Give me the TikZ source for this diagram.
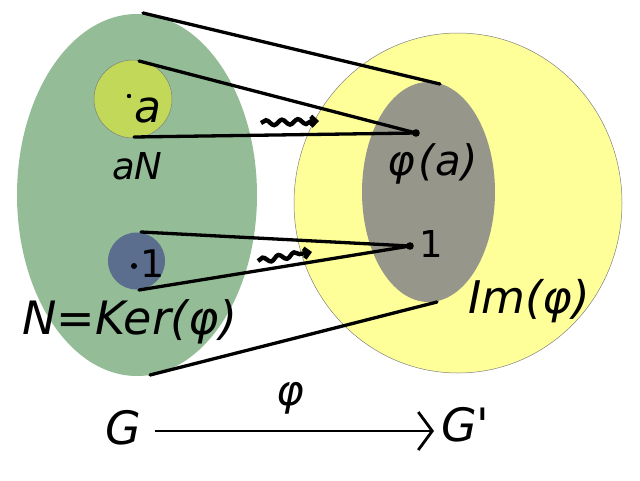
\documentclass[tikz,border=0pt]{standalone}
\usepackage{fontspec}
\setmainfont{DejaVu Sans}[Ligatures=TeXOff]
\usetikzlibrary{decorations.pathmorphing,arrows.meta}
\definecolor{grn}{RGB}{148,189,151}
\definecolor{ylw}{RGB}{255,255,153}
\definecolor{gry}{RGB}{150,150,138}
\definecolor{lim}{RGB}{194,216,88}
\definecolor{blu}{RGB}{91,110,141}
\tikzset{
  lbl/.style={inner sep=0pt, anchor=base west},
  mapline/.style={line width=3.3pt, line cap=round},
  squig/.style={line width=4.4pt, decorate,
    decoration={snake, amplitude=2.6pt, segment length=16pt, post length=7pt},
    -{Straight Barb[length=5pt,width=10pt]}},
  bigarrow/.style={line width=2.8pt, -{Straight Barb[length=14pt,width=38pt]}},
}
\newcommand{\fs}[1]{\fontsize{#1}{#1}\selectfont\itshape}
\newcommand{\fu}[1]{\fontsize{#1}{#1}\selectfont}
\begin{document}
\begin{tikzpicture}[x=1pt,y=-1pt]
\useasboundingbox (0,0) rectangle (640,480);
% sets
\fill[grn] (137,195) ellipse [x radius=120, y radius=181];
\filldraw[fill=ylw, draw=gray, line width=0.5pt] (458,203) ellipse [x radius=164, y radius=170];
\fill[gry] (428.5,192) ellipse [x radius=66.5, y radius=110];
\filldraw[fill=lim, draw=gray, line width=0.5pt] (133,99) circle (39);
\fill[blu] (136.5,261) circle (28.5);
% coordinates
\coordinate (gtop) at (143,13);
\coordinate (gbot) at (150,375);
\coordinate (ktop) at (440,84);
\coordinate (kbot) at (437,302);
\coordinate (atop) at (139,61);
\coordinate (abot) at (134,137);
\coordinate (ntop) at (141,232);
\coordinate (nbot) at (139,290);
\coordinate (pa) at (416,133);
\coordinate (p1) at (410,246);
% lines
\draw[mapline] (gtop) -- (ktop);
\draw[mapline] (gbot) -- (kbot);
\draw[mapline] (atop) -- (pa);
\draw[mapline] (abot) -- (pa);
\draw[mapline] (ntop) -- (p1);
\draw[mapline] (nbot) -- (p1);
\fill (pa) circle (3.8);
\fill (p1) circle (3.8);
% dots in small sets
\fill (129,96) circle (2.2);
\fill (134,266) circle (3);
% squiggles
\coordinate (s1a) at (261,123);
\coordinate (s1b) at (319,121);
\coordinate (s2a) at (258,261);
\coordinate (s2b) at (312,252);
\draw[squig] (s1a) -- (s1b);
\draw[squig] (s2a) -- (s2b);
% labels
\node[lbl] (la) at (134,122) {\fs{44}a};
\node[lbl] (laN) at (112,179) {\fs{37}aN};
\node[lbl] (l1) at (140,277) {\fu{38}1};
\node[lbl] (lker) at (22,334) {\fs{46}N=Ker(φ)};
\node[lbl] (lpa) at (387,175) {\fs{42}φ\hspace{4pt}(a)};
\node[lbl] (lp1) at (419,257) {\fu{37}1};
\node[lbl] (lim) at (468,313) {\fs{45}Im(φ)};
\node[lbl] (G) at (105,444) {\fs{46}G};
\node[lbl] (G2) at (441,441) {\fs{46}G'};
\node[lbl] (lphi) at (276,405) {\fs{42}φ};
\coordinate (ar1) at (155,431);
\coordinate (ar2) at (434,431);
\draw[bigarrow] (ar1) -- (ar2);
\end{tikzpicture}
\end{document}
